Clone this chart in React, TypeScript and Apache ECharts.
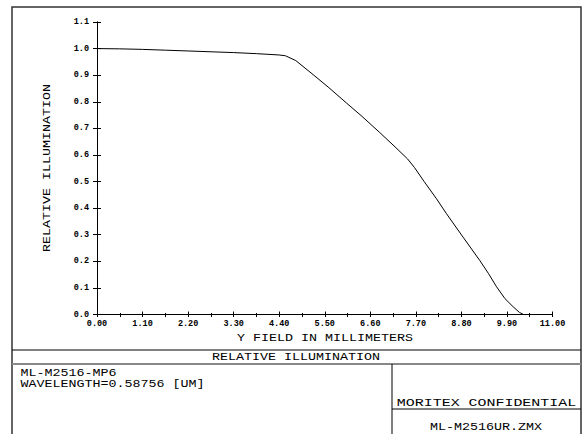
import React, { useEffect, useRef } from "react";
import * as echarts from "echarts";

const fieldMm = [0, 0.55, 1.1, 1.65, 2.2, 2.75, 3.3, 3.85, 4.4, 4.55, 4.8, 5.22, 5.6, 6.02, 6.4, 6.83, 7.2, 7.5, 7.67, 7.9, 8.2, 8.44, 8.84, 9.24, 9.45, 9.65, 9.85, 10.05, 10.2, 10.3, 10.37];
const relIllum = [1.0, 0.999, 0.997, 0.994, 0.991, 0.988, 0.985, 0.981, 0.976, 0.973, 0.955, 0.902, 0.853, 0.796, 0.745, 0.684, 0.63, 0.585, 0.552, 0.5, 0.435, 0.379, 0.291, 0.204, 0.155, 0.104, 0.06, 0.029, 0.008, 0.0, 0.0];
const xTickLabels = ["0.00", "1.10", "2.20", "3.30", "4.40", "5.50", "6.60", "7.70", "8.80", "9.90", "11.00"];
const yTickLabels = ["0.0", "0.1", "0.2", "0.3", "0.4", "0.5", "0.6", "0.7", "0.8", "0.9", "1.0", "1.1"];

const xTitle = "Y FIELD IN MILLIMETERS";
const yTitle = "RELATIVE ILLUMINATION";
const plotTitle = "RELATIVE ILLUMINATION";
const lensName = "ML-M2516-MP6";
const wavelengthText = "WAVELENGTH=0.58756 [UM]";
const confidentialText = "MORITEX CONFIDENTIAL";
const fileName = "ML-M2516UR.ZMX";

const FONT = "'Liberation Mono', 'DejaVu Sans Mono', monospace";

export default function App() {
  const ref = useRef<HTMLDivElement>(null);
  useEffect(() => {
    document.body.style.margin = "0";
    const chart = echarts.init(ref.current!, null, { renderer: "svg" });
    const data = fieldMm.map((x, i) => [x, relIllum[i]]);
    const tickLabelStyle = { fontFamily: FONT, fontSize: 8.5, fontWeight: "bold" as const, color: "#000" };
    const txt = (text: string, x: number, y: number, align: string, sx = 1.16, extra: any = {}) => ({
      type: "text", x, y, scaleX: sx, silent: true, ...extra,
      style: { text, font: `11.5px ${FONT}`, fill: "#000", align, verticalAlign: "middle" },
    });
    chart.setOption({
      animation: false,
      backgroundColor: "#fff",
      grid: { left: 97, top: 22, width: 455.5, height: 292.5, containLabel: false },
      xAxis: [
        {
          type: "value", min: 0, max: 11, interval: 1.1, position: "bottom",
          axisLine: { lineStyle: { color: "#000", width: 1 } },
          axisTick: { inside: true, length: 3, lineStyle: { color: "#000" } },
          minorTick: { show: true, splitNumber: 2, length: 1.5, lineStyle: { color: "#000" } },
          splitLine: { show: false },
          axisLabel: { ...tickLabelStyle, margin: 5, formatter: (_v: number, i: number) => xTickLabels[i] ?? "" },
        },
        {
          type: "value", min: 0, max: 11, interval: 0.55, position: "top",
          axisLine: { lineStyle: { color: "#000", width: 1 } },
          axisTick: { inside: true, length: 2.5, lineStyle: { color: "#000" } },
          splitLine: { show: false },
          axisLabel: { show: false },
        },
      ],
      yAxis: [
        {
          type: "value", min: 0, max: 1.1, interval: 0.1, position: "left",
          axisLine: { show: true, lineStyle: { color: "#000", width: 1 } },
          axisTick: { show: true, inside: true, length: 4, lineStyle: { color: "#000" } },
          splitLine: { show: false },
          axisLabel: { ...tickLabelStyle, margin: 8, formatter: (_v: number, i: number) => yTickLabels[i] ?? "" },
        },
        {
          type: "value", min: 0, max: 1.1, interval: 0.1, position: "right",
          axisLine: { show: true, lineStyle: { color: "#000", width: 1 } },
          axisTick: { show: true, inside: true, length: 4, lineStyle: { color: "#000" } },
          splitLine: { show: false },
          axisLabel: { show: false },
        },
      ],
      series: [
        {
          type: "line", data, showSymbol: false, symbol: "none", smooth: false,
          lineStyle: { color: "#000", width: 1 }, xAxisIndex: 0, yAxisIndex: 0,
        },
      ],
      graphic: [
        { type: "rect", shape: { x: 12, y: 7, width: 569, height: 440 }, style: { fill: "none", stroke: "#333", lineWidth: 1.5 }, silent: true },
        { type: "line", shape: { x1: 12, y1: 350, x2: 581, y2: 350 }, style: { stroke: "#000", lineWidth: 1 } },
        { type: "line", shape: { x1: 12, y1: 364, x2: 581, y2: 364 }, style: { stroke: "#888", lineWidth: 2 } },
        { type: "line", shape: { x1: 392, y1: 364, x2: 392, y2: 434 }, style: { stroke: "#000", lineWidth: 1 } },
        { type: "line", shape: { x1: 392, y1: 409, x2: 581, y2: 409 }, style: { stroke: "#000", lineWidth: 1 } },
        txt(xTitle, 325, 338.5, "center"),
        txt(yTitle, 47, 168, "center", 1.16, { rotation: Math.PI / 2 }),
        txt(plotTitle, 296, 357.5, "center"),
        txt(lensName, 20.5, 373, "left"),
        txt(wavelengthText, 20.5, 384, "left"),
        txt(confidentialText, 486.5, 403, "center", 1.3),
        txt(fileName, 486, 427.5, "center"),
      ],
    });
    return () => chart.dispose();
  }, []);
  return <div ref={ref} style={{ width: 587, height: 434 }} />;
}
